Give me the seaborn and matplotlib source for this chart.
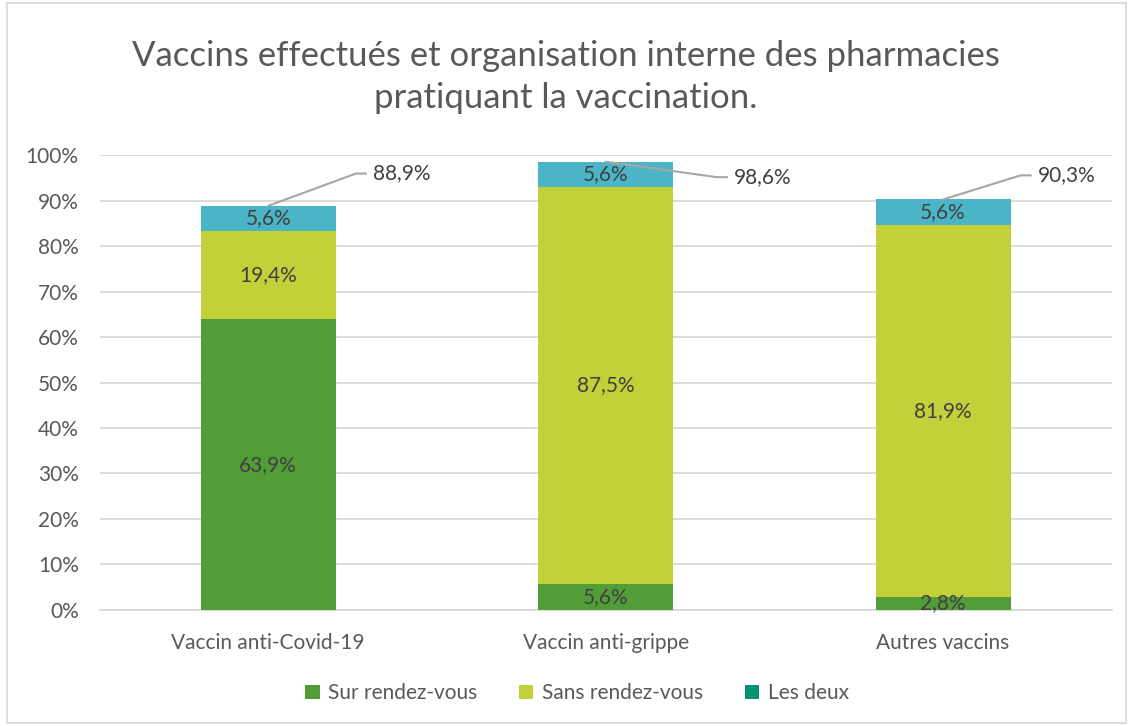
import matplotlib
matplotlib.use("Agg")
import matplotlib.pyplot as plt
from matplotlib.patches import Patch, Rectangle
import seaborn as sns
import pandas as pd

categories = ["Vaccin anti-Covid-19", "Vaccin anti-grippe", "Autres vaccins"]
sur_rdv = [63.9, 5.6, 2.8]
sans_rdv = [19.4, 87.5, 81.9]
les_deux = [5.6, 5.6, 5.6]
totals = [88.9, 98.6, 90.3]
series_names = ["Sur rendez-vous", "Sans rendez-vous", "Les deux"]

c_sur = "#529D38"
c_sans = "#C2D13A"
c_deux = "#4BB5C7"
c_deux_legend = "#009473"
text_dark = "#404040"
text_axis = "#595959"
grid_col = "#D9D9D9"

sns.set_theme(style="white")
plt.rcParams["font.family"] = ["Lato", "DejaVu Sans"]

df = pd.DataFrame({
    "cat": categories,
    "sur": sur_rdv,
    "sans": sans_rdv,
    "deux": les_deux,
    "total": totals,
})
df["sur_sans"] = df["sur"] + df["sans"]

fig = plt.figure(figsize=(11.31, 7.26), dpi=100)
ax = fig.add_axes([0.088, 0.160, 0.895, 0.626])

# Stacked bars drawn as overlapping cumulative layers
for col, colour in (("total", c_deux), ("sur_sans", c_sans), ("sur", c_sur)):
    sns.barplot(data=df, x="cat", y=col, color=colour, width=0.4,
                saturation=1, ax=ax, zorder=3, linewidth=0, edgecolor=colour)

ax.set_ylim(0, 100)
ax.set_xlim(-0.5, 2.5)
ax.set_yticks(range(0, 101, 10))
ax.set_yticklabels([f"{v}%" for v in range(0, 101, 10)])
ax.yaxis.grid(True, color=grid_col, linewidth=1.3, zorder=0)
ax.set_axisbelow(True)
ax.set_xlabel("")
ax.set_ylabel("")
for s in ["top", "right", "left"]:
    ax.spines[s].set_visible(False)
ax.spines["bottom"].set_color(grid_col)
ax.spines["bottom"].set_linewidth(1.3)
ax.tick_params(axis="y", length=0, pad=15, labelsize=15, labelcolor=text_axis)
ax.tick_params(axis="x", length=0, pad=17, labelsize=15, labelcolor=text_axis)


def fmt(v):
    return f"{v:.1f}%".replace(".", ",")


# Segment labels
for i in range(len(categories)):
    base = 0.0
    for val in (sur_rdv[i], sans_rdv[i], les_deux[i]):
        ax.text(i, base + val / 2, fmt(val), ha="center", va="center",
                fontsize=15, color=text_dark, zorder=5)
        base += val

# Total labels with leader lines
label_pos = [(0.26, 96.0), (0.33, 95.2), (0.23, 95.6)]
for i, (dx, ly) in enumerate(label_pos):
    top = totals[i]
    x_line = [i, i + dx, i + dx + 0.03]
    y_line = [top, ly, ly]
    ax.plot(x_line, y_line, color="#A6A6A6", linewidth=1.5, zorder=6,
            clip_on=False)
    ax.text(i + dx + 0.05, ly, fmt(top), ha="left", va="center",
            fontsize=15, color=text_dark, zorder=6)

fig.suptitle("Vaccins effectués et organisation interne des pharmacies\n"
             "pratiquant la vaccination.", y=0.945, fontsize=25,
             color=text_axis, linespacing=1.4)

handles = [Patch(facecolor=c_sur, edgecolor="none"),
           Patch(facecolor=c_sans, edgecolor="none"),
           Patch(facecolor=c_deux_legend, edgecolor="none")]
fig.legend(handles, series_names, loc="center", bbox_to_anchor=(0.51, 0.045),
           ncol=3, frameon=False, fontsize=15, labelcolor=text_axis,
           handlelength=0.7, handleheight=0.7, handletextpad=0.4,
           columnspacing=2.0)

fig.patches.append(Rectangle((0.006, 0.004), 0.99, 0.992,
                             transform=fig.transFigure, fill=False,
                             edgecolor=grid_col, linewidth=1.3))

fig.savefig("out.png", dpi=100)
